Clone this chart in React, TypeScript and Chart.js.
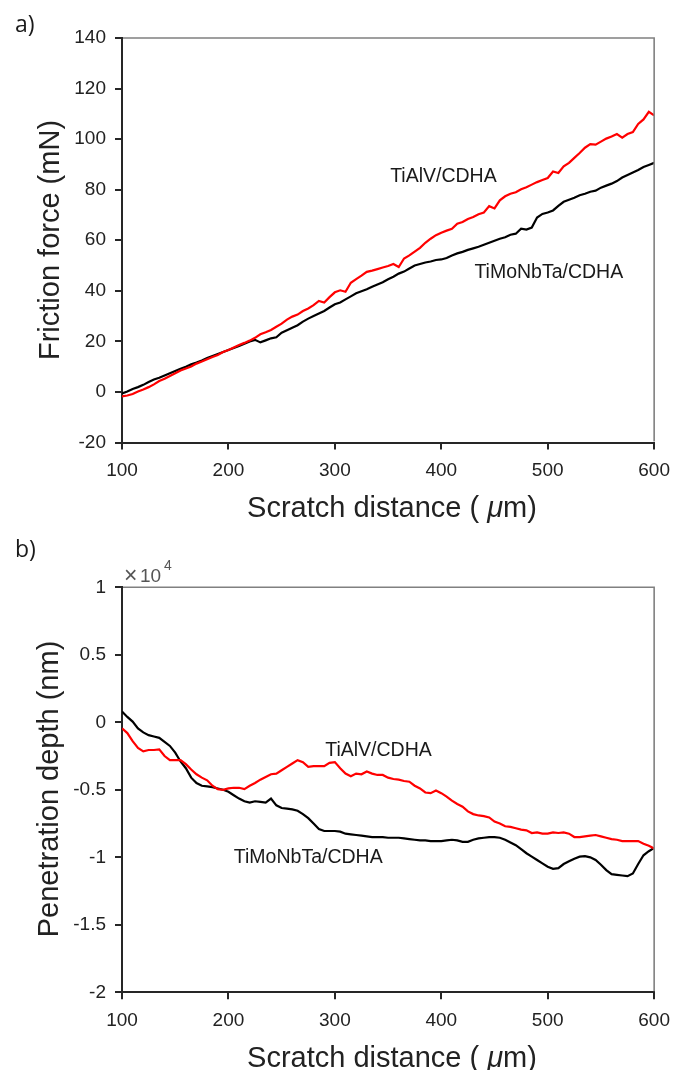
import React, { useEffect, useRef } from 'react';
import { Chart, registerables } from 'chart.js';

Chart.register(...registerables);

// Scratch distance (µm), sampled every 5 µm
const DIST: number[] = Array.from({ length: 101 }, (_, i) => 100 + 5 * i);

// a) Friction force (mN)
const FRICTION_TIALV: number[] = [
  -1.8, -1.4, -0.8, 0.2, 1.0, 1.9, 3.0, 4.3, 5.2, 6.3,
  7.4, 8.5, 9.3, 10.1, 11.2, 12.0, 12.9, 13.8, 14.6, 15.8,
  16.6, 17.6, 18.6, 19.4, 20.3, 21.4, 22.8, 23.6, 24.5, 25.8,
  27.0, 28.6, 29.8, 30.6, 32.0, 33.0, 34.3, 36.0, 35.4, 37.5,
  39.4, 40.2, 39.6, 43.2, 44.6, 46.0, 47.5, 48.0, 48.6, 49.2,
  49.8, 50.6, 49.4, 52.8, 54.0, 55.5, 57.0, 59.0, 60.6, 62.0,
  63.0, 63.8, 64.5, 66.5, 67.2, 68.4, 69.2, 70.3, 71.0, 73.5,
  72.6, 75.8, 77.4, 78.4, 79.0, 80.2, 81.0, 82.0, 83.0, 83.8,
  84.6, 87.2, 86.6, 89.2, 90.6, 92.6, 94.5, 96.6, 98.0, 97.8,
  99.0, 100.2, 101.0, 102.0, 100.6, 102.0, 102.8, 106.0, 107.8, 110.8,
  109.4,
];
const FRICTION_TIMONBTA: number[] = [
  -0.6, 0.2, 1.2, 1.9, 2.8, 3.9, 4.9, 5.6, 6.5, 7.4,
  8.3, 9.2, 10.0, 10.9, 11.6, 12.4, 13.4, 14.2, 15.0, 15.8,
  16.6, 17.4, 18.2, 19.1, 20.0, 20.6, 19.6, 20.4, 21.2, 21.6,
  23.4, 24.4, 25.4, 26.4, 27.8, 29.0, 30.0, 31.0, 32.0, 33.4,
  34.7, 35.4, 36.6, 37.8, 39.0, 39.8, 40.6, 41.6, 42.5, 43.4,
  44.6, 45.6, 46.8, 47.6, 48.8, 50.0, 50.6, 51.2, 51.6, 52.2,
  52.4, 53.0, 54.0, 54.8, 55.4, 56.2, 56.8, 57.4, 58.2, 59.0,
  59.8, 60.6, 61.2, 62.2, 62.6, 64.6, 64.2, 65.0, 69.0, 70.4,
  71.0, 71.8, 73.6, 75.2, 76.0, 76.8, 77.8, 78.4, 79.2, 79.6,
  80.8, 81.6, 82.4, 83.4, 84.8, 85.8, 86.8, 87.8, 89.0, 89.8,
  90.6,
];

// b) Penetration depth (nm)
const DEPTH_TIALV: number[] = [
  -450, -800, -1400, -1900, -2150, -2050, -2050, -2000, -2500, -2800,
  -2800, -2800, -3100, -3500, -3850, -4100, -4300, -4700, -4950, -5000,
  -4900, -4850, -4850, -4950, -4700, -4500, -4250, -4050, -3850, -3800,
  -3550, -3300, -3050, -2800, -2950, -3300, -3250, -3250, -3250, -3000,
  -2950, -3400, -3800, -4000, -3800, -3850, -3650, -3800, -3900, -3900,
  -4100, -4200, -4250, -4350, -4400, -4700, -4900, -5200, -5250, -5050,
  -5250, -5500, -5800, -6050, -6250, -6600, -6800, -6900, -6950, -7050,
  -7350, -7500, -7700, -7750, -7850, -7950, -8000, -8200, -8150, -8250,
  -8250, -8150, -8200, -8150, -8250, -8500, -8500, -8450, -8400, -8350,
  -8450, -8550, -8650, -8700, -8800, -8800, -8800, -8800, -9000, -9150,
  -9350,
];
const DEPTH_TIMONBTA: number[] = [
  800, 400, 50, -450, -750, -950, -1050, -1150, -1450, -1750,
  -2250, -2900, -3400, -4100, -4500, -4700, -4750, -4800, -4900, -5000,
  -5150, -5400, -5650, -5850, -5950, -5850, -5900, -5950, -5650, -6150,
  -6350, -6400, -6450, -6550, -6800, -7100, -7500, -7900, -8050, -8050,
  -8050, -8100, -8250, -8300, -8350, -8400, -8450, -8500, -8500, -8500,
  -8550, -8550, -8550, -8600, -8650, -8700, -8750, -8750, -8800, -8800,
  -8800, -8750, -8700, -8750, -8850, -8850, -8700, -8600, -8550, -8500,
  -8500, -8550, -8700, -8900, -9100, -9400, -9700, -9950, -10200, -10450,
  -10700, -10850, -10800, -10500, -10300, -10100, -9950, -9920, -10000, -10200,
  -10550, -10950, -11250, -11300, -11350, -11400, -11200, -10500, -9850, -9550,
  -9300,
];

const SERIES_NAMES = ['TiAlV/CDHA', 'TiMoNbTa/CDHA'];
const SERIES_COLORS = ['#ff0000', '#000000'];

const FONT = '"Liberation Sans", Arial, sans-serif';

type Note = { text: string; x: number; y: number };

interface PanelCfg {
  panel: string;
  yTitle: string;
  yTitleX: number;
  yTitleY: number;
  xTitleY: number;
  notes: Note[];
  exponent: boolean;
}

function decorPlugin(cfg: PanelCfg) {
  return {
    id: 'decor',
    afterDraw(chart: any) {
      const { ctx, chartArea: a, scales } = chart;
      ctx.save();
      // top and right frame lines
      ctx.strokeStyle = '#808080';
      ctx.lineWidth = 1.6;
      ctx.beginPath();
      ctx.moveTo(a.left + 1, a.top);
      ctx.lineTo(a.right, a.top);
      ctx.lineTo(a.right, a.bottom - 1);
      ctx.stroke();

      // panel label
      ctx.fillStyle = '#1a1a1a';
      ctx.font = '23px "Open Sans", sans-serif';
      ctx.textAlign = 'left';
      ctx.textBaseline = 'alphabetic';
      ctx.fillText(cfg.panel, 15, cfg.panel === 'a)' ? 32 : 27);

      // y title
      ctx.save();
      ctx.translate(cfg.yTitleX, cfg.yTitleY);
      ctx.rotate(-Math.PI / 2);
      ctx.font = `29px ${FONT}`;
      ctx.fillStyle = '#222222';
      ctx.textAlign = 'center';
      ctx.fillText(cfg.yTitle, 0, 0);
      ctx.restore();

      // x title with italic mu
      const normal = `29px ${FONT}`;
      const ital = `italic 29px ${FONT}`;
      const p1 = 'Scratch distance ( ';
      const p2 = '\u03bc';
      const p3 = 'm)';
      ctx.font = normal;
      const w1 = ctx.measureText(p1).width;
      const w3 = ctx.measureText(p3).width;
      ctx.font = ital;
      const w2 = ctx.measureText(p2).width;
      let sx = 392 - (w1 + w2 + w3) / 2;
      ctx.fillStyle = '#222222';
      ctx.textAlign = 'left';
      ctx.font = normal;
      ctx.fillText(p1, sx, cfg.xTitleY);
      sx += w1;
      ctx.font = ital;
      ctx.fillText(p2, sx, cfg.xTitleY);
      sx += w2;
      ctx.font = normal;
      ctx.fillText(p3, sx, cfg.xTitleY);

      // series annotations
      ctx.font = `19.5px ${FONT}`;
      ctx.fillStyle = '#1a1a1a';
      ctx.textAlign = 'center';
      ctx.textBaseline = 'middle';
      for (const n of cfg.notes) {
        ctx.fillText(n.text, scales.x.getPixelForValue(n.x), scales.y.getPixelForValue(n.y));
      }

      // exponent marker
      if (cfg.exponent) {
        ctx.fillStyle = '#555555';
        ctx.textAlign = 'left';
        ctx.textBaseline = 'alphabetic';
        ctx.font = `23px ${FONT}`;
        ctx.fillText('\u00d7', 124, 53);
        ctx.font = `19px ${FONT}`;
        ctx.fillText('10', 140, 52);
        ctx.font = `14px ${FONT}`;
        ctx.fillText('4', 164, 40);
      }
      ctx.restore();
    },
  };
}

interface ChartProps {
  top: number;
  height: number;
  areaTop: number;
  areaHeight: number;
  a: number[];
  b: number[];
  yMin: number;
  yMax: number;
  yStep: number;
  yFormat: (v: number) => string;
  cfg: PanelCfg;
}

function Panel(props: ChartProps) {
  const ref = useRef<HTMLCanvasElement | null>(null);
  useEffect(() => {
    if (!ref.current) return;
    const axisColor = '#262626';
    const tickFont = { family: FONT, size: 19 };
    const xHeight = props.height - props.areaTop - props.areaHeight;
    const chart = new Chart(ref.current, {
      type: 'line',
      data: {
        datasets: [
          {
            label: SERIES_NAMES[0],
            data: DIST.map((x, i) => ({ x, y: props.a[i] })),
            borderColor: SERIES_COLORS[0],
            borderWidth: 2.2,
            pointRadius: 0,
            tension: 0,
          },
          {
            label: SERIES_NAMES[1],
            data: DIST.map((x, i) => ({ x, y: props.b[i] })),
            borderColor: SERIES_COLORS[1],
            borderWidth: 2.2,
            pointRadius: 0,
            tension: 0,
          },
        ],
      },
      options: {
        animation: false,
        responsive: false,
        layout: { padding: { left: 0, right: 16, top: props.areaTop, bottom: 0 } },
        plugins: { legend: { display: false }, tooltip: { enabled: false }, title: { display: false } },
        scales: {
          x: {
            type: 'linear',
            min: 100,
            max: 600,
            afterFit: (s: any) => { s.height = xHeight; },
            ticks: { stepSize: 100, autoSkip: false, maxRotation: 0, color: '#222222', font: tickFont, padding: 10 },
            grid: { display: true, drawOnChartArea: false, drawTicks: true, tickLength: 7, color: axisColor, lineWidth: 2 },
            border: { display: true, color: axisColor, width: 2 },
          },
          y: {
            type: 'linear',
            min: props.yMin,
            max: props.yMax,
            afterFit: (s: any) => { s.width = 122; },
            ticks: { stepSize: props.yStep, autoSkip: false, color: '#222222', font: tickFont, padding: 9, callback: (v: any) => props.yFormat(Number(v)) },
            grid: { display: true, drawOnChartArea: false, drawTicks: true, tickLength: 7, color: axisColor, lineWidth: 2 },
            border: { display: true, color: axisColor, width: 2 },
          },
        },
      } as any,
      plugins: [decorPlugin(props.cfg)],
    });
    return () => chart.destroy();
  }, []);
  return (
    <canvas
      ref={ref}
      width={680}
      height={props.height}
      style={{ position: 'absolute', left: 0, top: props.top, width: 680, height: props.height }}
    />
  );
}

export default function App() {
  return (
    <div style={{ position: 'absolute', left: 0, top: 0, width: 680, height: 1070, background: '#ffffff' }}>
      <Panel
        top={0}
        height={530}
        areaTop={38}
        areaHeight={404.5}
        a={FRICTION_TIALV}
        b={FRICTION_TIMONBTA}
        yMin={-20}
        yMax={140}
        yStep={20}
        yFormat={(v) => String(v)}
        cfg={{
          panel: 'a)',
          yTitle: 'Friction force (mN)',
          yTitleX: 59,
          yTitleY: 240,
          xTitleY: 517,
          notes: [
            { text: SERIES_NAMES[0], x: 402, y: 85.3 },
            { text: SERIES_NAMES[1], x: 501, y: 47.3 },
          ],
          exponent: false,
        }}
      />
      <Panel
        top={530}
        height={540}
        areaTop={57.3}
        areaHeight={405}
        a={DEPTH_TIALV}
        b={DEPTH_TIMONBTA}
        yMin={-20000}
        yMax={10000}
        yStep={5000}
        yFormat={(v) => String(Math.round(v / 1000) / 10)}
        cfg={{
          panel: 'b)',
          yTitle: 'Penetration depth (nm)',
          yTitleX: 58,
          yTitleY: 259,
          xTitleY: 536.5,
          notes: [
            { text: SERIES_NAMES[0], x: 341, y: -2070 },
            { text: SERIES_NAMES[1], x: 275, y: -10000 },
          ],
          exponent: true,
        }}
      />
    </div>
  );
}
